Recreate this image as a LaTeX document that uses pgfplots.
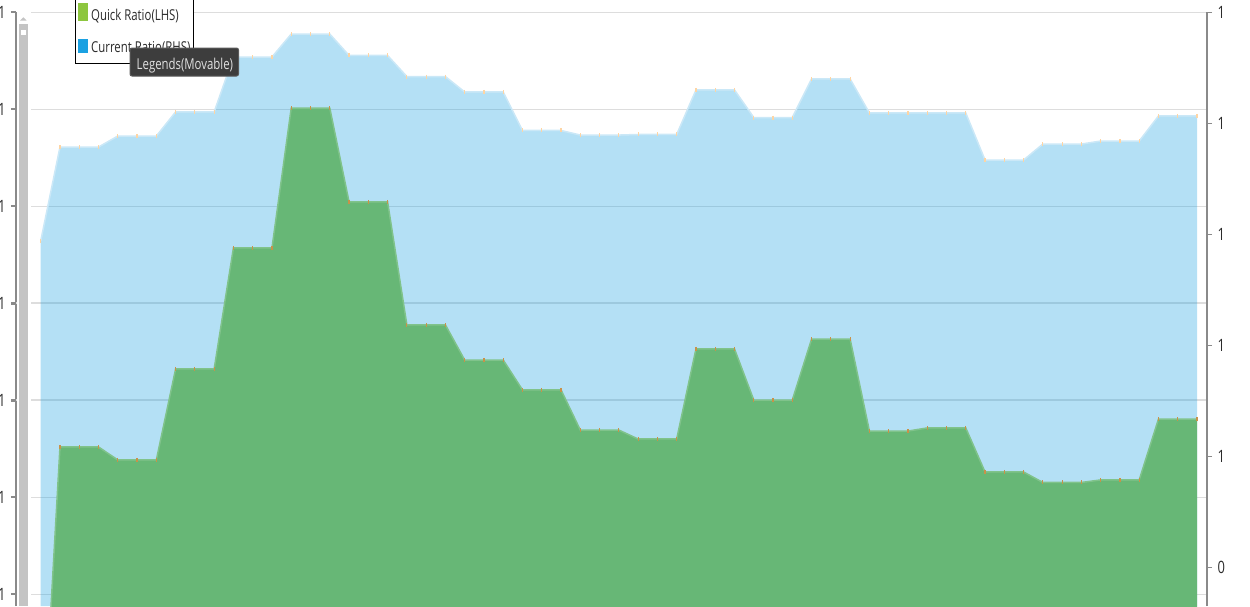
\documentclass[border=0pt]{standalone}
\usepackage{fontspec}
\setmainfont{Open Sans}[FakeStretch=0.76]
\usepackage{pgfplots}
\usepackage{pgfplotstable}
\pgfplotsset{compat=1.18}

\definecolor{crblue}{HTML}{1BA1E2}
\definecolor{qrgreen}{HTML}{67B776}
\definecolor{qredge}{HTML}{80C38B}
\definecolor{credge}{HTML}{CBE8F7}
\definecolor{gridgray}{HTML}{DDDDDD}
\definecolor{axgray}{HTML}{8A8A8A}
\definecolor{qrmark}{HTML}{C8924A}
\definecolor{crmark}{HTML}{FDD5A5}
\definecolor{lgreen}{HTML}{8DC63F}
\definecolor{tipbg}{HTML}{3D3D3D}
\definecolor{tipline}{HTML}{5A5A5A}
\definecolor{labelc}{HTML}{2B2B2B}
\definecolor{scroll}{HTML}{C4C4C4}

% i = period, cr = current ratio (RHS), qr = quick ratio (LHS)
\pgfplotstableread{
i  cr     qr
0  0.6941 0.8990
1  0.7788 1.0758
2  0.7788 1.0758
3  0.7788 1.0758
4  0.7887 1.0691
5  0.7887 1.0691
6  0.7887 1.0691
7  0.8104 1.1160
8  0.8104 1.1160
9  0.8104 1.1160
10 0.8599 1.1784
11 0.8599 1.1784
12 0.8599 1.1784
13 0.8806 1.2505
14 0.8806 1.2505
15 0.8806 1.2505
16 0.8613 1.2021
17 0.8613 1.2021
18 0.8613 1.2021
19 0.8423 1.1387
20 0.8423 1.1387
21 0.8423 1.1387
22 0.8284 1.1206
23 0.8284 1.1206
24 0.8284 1.1206
25 0.7937 1.1052
26 0.7937 1.1052
27 0.7937 1.1052
28 0.7896 1.0845
29 0.7896 1.0845
30 0.7896 1.0845
31 0.7901 1.0799
32 0.7901 1.0799
33 0.7901 1.0799
34 0.8302 1.1263
35 0.8302 1.1263
36 0.8302 1.1263
37 0.8054 1.1000
38 0.8054 1.1000
39 0.8054 1.1000
40 0.8401 1.1314
41 0.8401 1.1314
42 0.8401 1.1314
43 0.8095 1.0840
44 0.8095 1.0840
45 0.8095 1.0840
46 0.8095 1.0856
47 0.8095 1.0856
48 0.8095 1.0856
49 0.7671 1.0629
50 0.7671 1.0629
51 0.7671 1.0629
52 0.7815 1.0575
53 0.7815 1.0575
54 0.7815 1.0575
55 0.7842 1.0588
56 0.7842 1.0588
57 0.7842 1.0588
58 0.8068 1.0902
59 0.8068 1.0902
60 0.8068 1.0902
}\ratios

\pgfplotsset{
  frame/.style={
    scale only axis, width=1191pt, height=594pt,
    at={(16pt,-606pt)}, anchor=south west,
    xmin=-1.282, xmax=60.52,
    axis x line=none, xtick=\empty,
    /pgf/number format/assume math mode=true,
    tick label style={font=\fontsize{17}{17}\selectfont, text=labelc},
    y axis line style={axgray, line width=1.3pt, -},
    ytick style={axgray, line width=1.3pt},
    tick align=outside, major tick length=5pt,
  },
}

\begin{document}
\begin{tikzpicture}
\useasboundingbox (0,0) rectangle (1250pt,-606pt);
\clip (0,0) rectangle (1250pt,-606pt);

% left scale: grid and ticks
\begin{axis}[frame, ymin=0.99381, ymax=1.30,
  axis y line*=left,
  ytick={1.00,1.05,1.20,1.25,1.30}, yticklabels={1,1,1,1,1},
  extra y ticks={1.10,1.15}, extra y tick labels={1,1},
  ymajorgrids, grid style={gridgray, line width=1pt},
  extra tick style={grid style={gridgray, line width=2.6pt}, ytick style={line width=3pt}},
  yticklabel style={xshift=-2pt}]
  \addplot[draw=none] coordinates {(0,1.1)};
\end{axis}

% right scale: current ratio
\begin{axis}[frame, ymin=0.36532, ymax=0.90045,
  axis y line*=right,
  ytick={0.4,0.5,0.6,0.7,0.8,0.9}, yticklabels={0,1,1,1,1,1},
  yticklabel style={xshift=2pt}]
  \addplot[draw=none, fill=crblue, fill opacity=0.33] table[x=i,y=cr]{\ratios} \closedcycle;
  \addplot[credge, line width=1.5pt] table[x=i,y=cr]{\ratios};
  \addplot[only marks, mark=|, mark size=2pt, mark options={crmark, line width=1.2pt}] table[x=i,y=cr]{\ratios};
\end{axis}

% left scale: quick ratio
\begin{axis}[frame, ymin=0.99381, ymax=1.30, hide axis]
  \addplot[draw=none, fill=qrgreen] table[x=i,y=qr]{\ratios}
    -- (axis cs:60,0.8) -- (axis cs:0,0.8) -- cycle;
  \addplot[qredge, line width=1.5pt] table[x=i,y=qr]{\ratios};
  \addplot[only marks, mark=|, mark size=2pt, mark options={qrmark, line width=1.2pt}] table[x=i,y=qr]{\ratios};
\end{axis}

\begin{scope}[x=1pt, y=-1pt]
  % scroll bar
  \fill[white] (16.8,10) rectangle (31,606);
  \fill[scroll] (19,24) rectangle (28,606);
  \fill[scroll] (20,20.7) -- (26.7,20.7) -- (23.35,17.3) -- cycle;
  \fill[white] (21,30) rectangle (26,34.7);
  % legend
  \draw[black, line width=0.9pt, fill=white] (75.5,-5) rectangle (193,63);
  \fill[lgreen] (78,3) rectangle (88,20.5);
  \fill[crblue] (78,39) rectangle (88,52.7);
  \node[anchor=base west, inner sep=0, text=labelc, font=\fontsize{15}{15}\selectfont] at (91,20) {Quick Ratio(LHS)};
  \node[anchor=base west, inner sep=0, text=labelc, font=\fontsize{15}{15}\selectfont] at (91,52.7) {Current Ratio(RHS)};
  % tooltip
  \draw[fill=tipbg, draw=tipline, rounded corners=2pt, line width=1pt] (130,48) rectangle (238.5,76);
  \node[anchor=base west, inner sep=0, text=white!88!black, font=\fontsize{15}{15}\selectfont] at (136.5,69.3) {Legends(Movable)};
\end{scope}
\end{tikzpicture}
\end{document}
